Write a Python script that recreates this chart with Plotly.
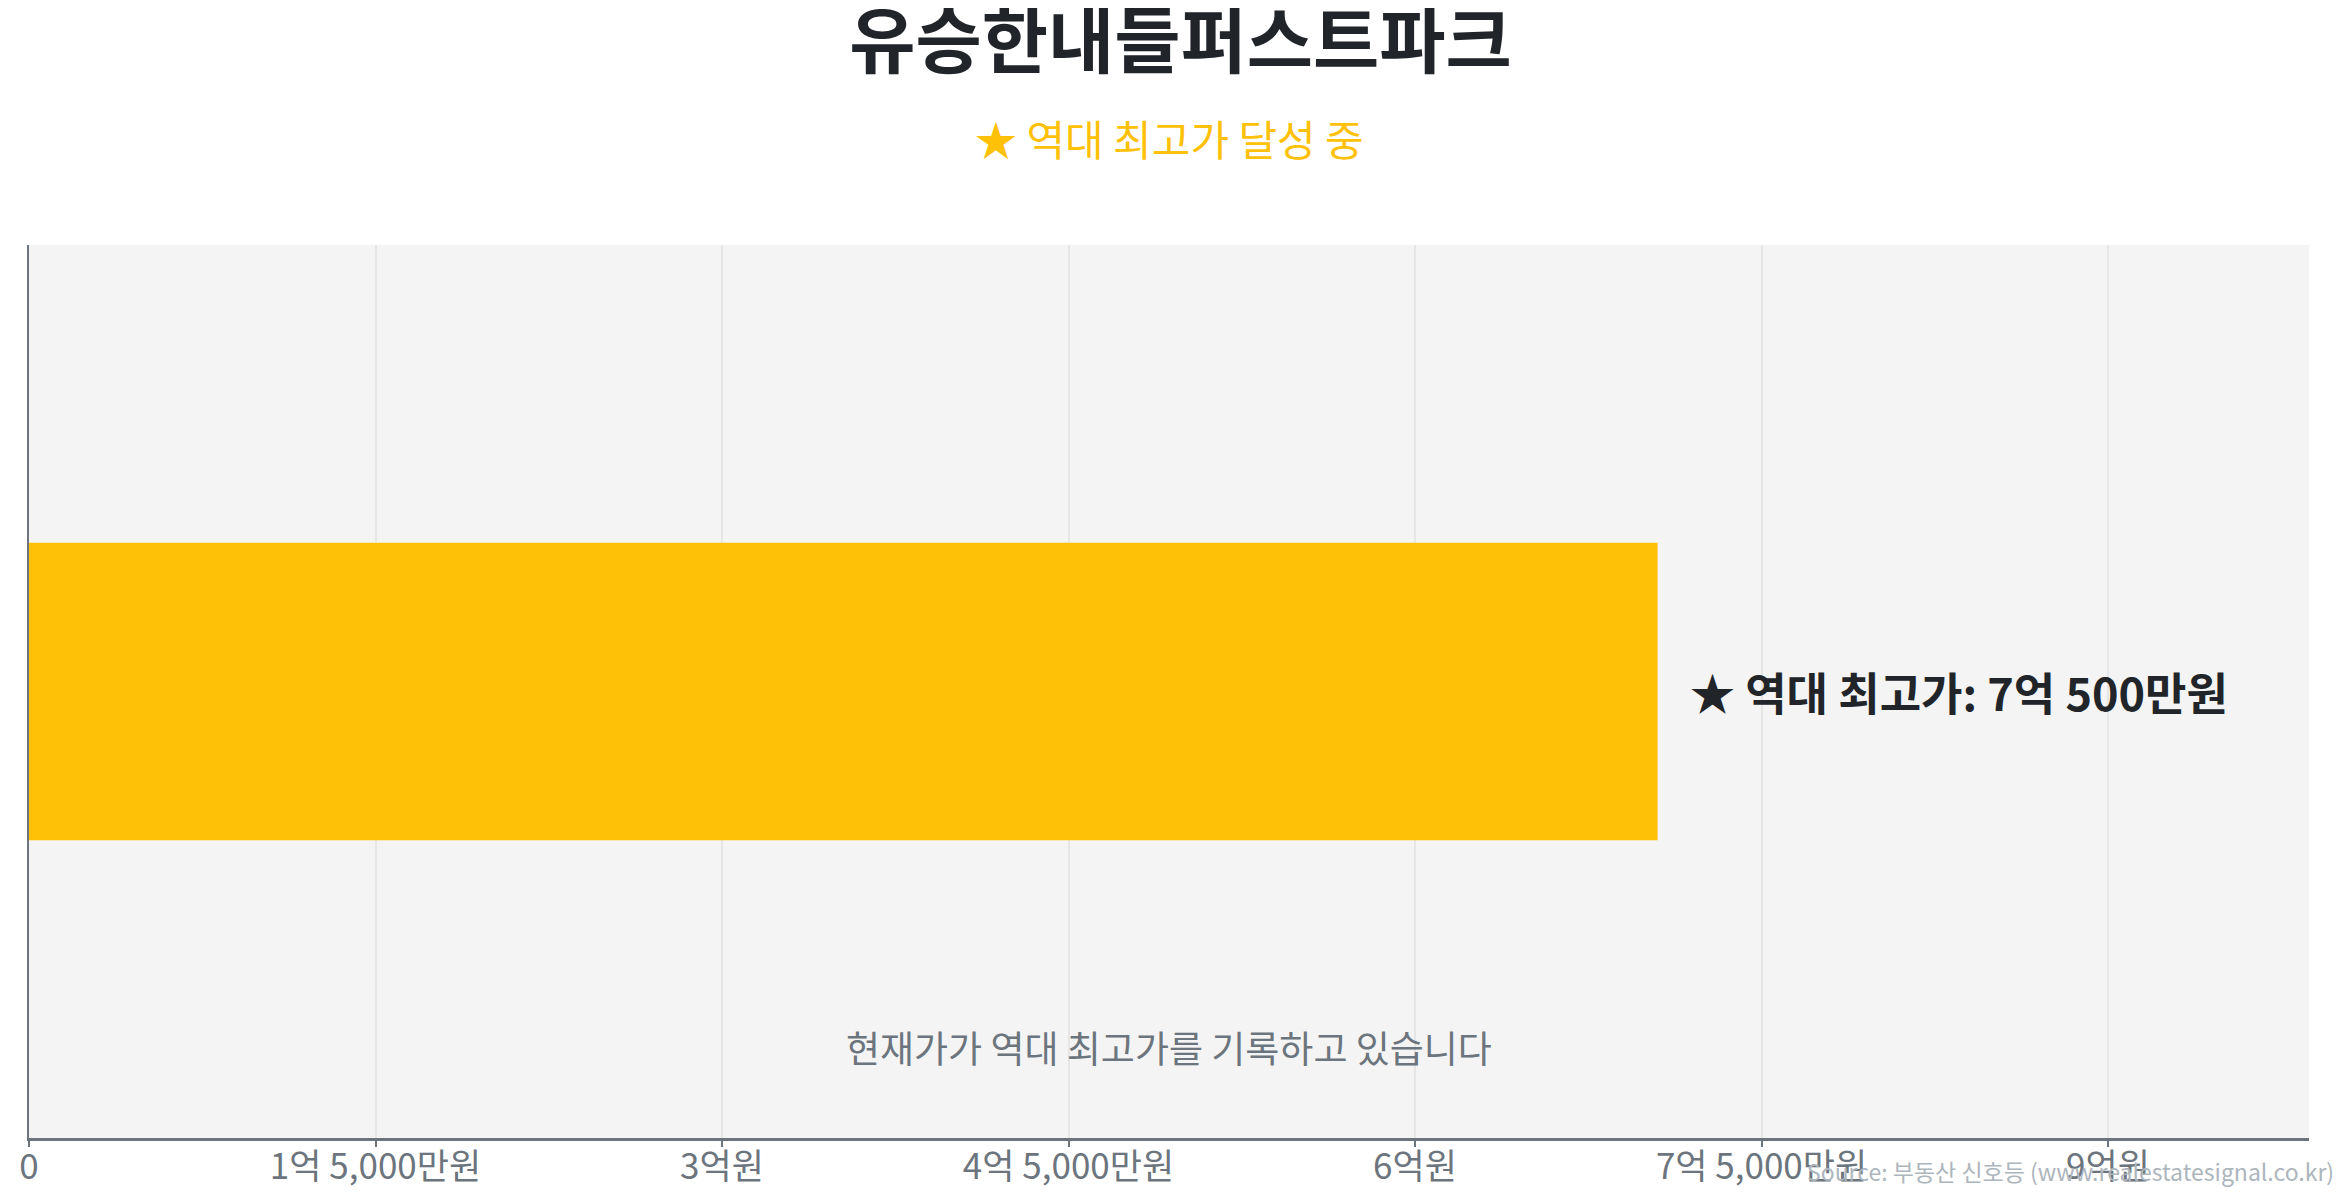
import plotly.graph_objects as go

# 데이터
apt_name = ["유승한내들퍼스트파크"]
max_price = [705000000]          # 역대 최고가 (원)
max_price_label = ["7억 500만원"]
tick_values = [0, 150000000, 300000000, 450000000, 600000000, 750000000, 900000000]
tick_labels = ["0", "1억 5,000만원", "3억원", "4억 5,000만원", "6억원", "7억 5,000만원", "9억원"]

FONT = "Noto Sans CJK KR"
DARK = "#212529"
GRAY = "#6c757d"
AMBER = "#FFC107"

fig = go.Figure()
fig.add_trace(go.Bar(
    x=max_price,
    y=apt_name,
    orientation="h",
    width=1,
    marker_color=AMBER,
    marker_line_width=0,
    hoverinfo="skip",
))

# 역대 최고가 라벨
fig.add_annotation(
    x=max_price[0], y=apt_name[0], xref="x", yref="y",
    text="★ 역대 최고가: " + max_price_label[0],
    showarrow=False, xanchor="left", yanchor="middle", xshift=30,
    font=dict(family=FONT, size=45, color=DARK, weight="bold"),
)

# 부제목
fig.add_annotation(
    x=0.5, y=1.12, xref="paper", yref="paper",
    text="★ 역대 최고가 달성 중",
    showarrow=False, xanchor="center", yanchor="middle",
    font=dict(family=FONT, size=42, color=AMBER),
)

# 안내 문구
fig.add_annotation(
    x=0.5, y=0.102, xref="paper", yref="paper",
    text="현재가가 역대 최고가를 기록하고 있습니다",
    showarrow=False, xanchor="center", yanchor="middle",
    font=dict(family=FONT, size=37, color=GRAY),
)

# 출처
fig.add_annotation(
    x=1.012, y=-0.037, xref="paper", yref="paper",
    text="Source: 부동산 신호등 (www.realestatesignal.co.kr)",
    showarrow=False, xanchor="right", yanchor="middle",
    font=dict(family=FONT, size=23, color="#adb5bd"),
)

fig.update_layout(
    width=2345, height=1200,
    title=dict(
        text="유승한내들퍼스트파크",
        x=0.5, xanchor="center", y=0.972, yanchor="middle",
        font=dict(family=FONT, size=72, color=DARK, weight="bold"),
    ),
    margin=dict(l=11, r=44, t=237, b=70),
    paper_bgcolor="white",
    plot_bgcolor="#f4f4f4",
    showlegend=False,
    font=dict(family=FONT, color=GRAY),
    xaxis=dict(
        range=[0, max_price[0] * 1.4],
        tickvals=tick_values,
        ticktext=tick_labels,
        tickfont=dict(family=FONT, size=35, color=GRAY),
        ticklabelstandoff=-10,
        showgrid=True, gridcolor="#e6e6e6", gridwidth=1.5,
        showline=True, linecolor=GRAY, linewidth=2.5,
        ticks="outside", tickcolor=GRAY, ticklen=6, tickwidth=1.5,
        zeroline=False, fixedrange=True,
    ),
    yaxis=dict(
        range=[-1.5, 1.5],
        showticklabels=False,
        showgrid=False,
        showline=True, linecolor=GRAY, linewidth=1.5,
        zeroline=False, fixedrange=True,
    ),
)

fig.write_html("out.html")
